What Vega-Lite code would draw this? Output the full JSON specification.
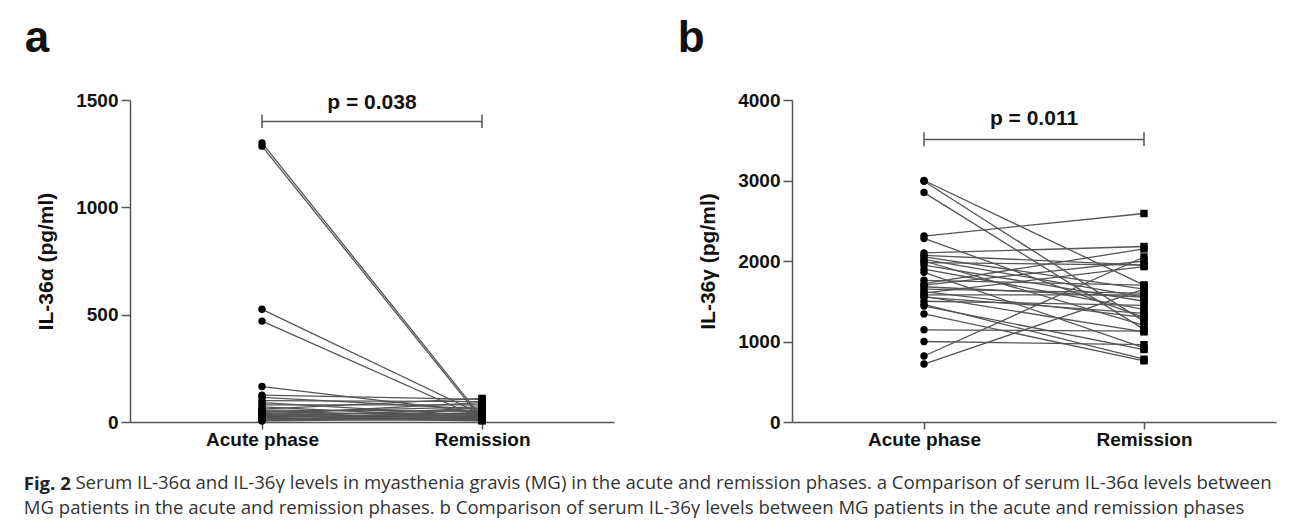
{
  "$schema": "https://vega.github.io/schema/vega-lite/v6.json",
  "background": "white",
  "padding": {"left": 23, "top": 17, "right": 5, "bottom": 5},
  "spacing": 63,
  "datasets": {
    "alpha": [
      {"id": 1, "phase": 0, "value": 1300}, {"id": 1, "phase": 1, "value": 20},
      {"id": 2, "phase": 0, "value": 1285}, {"id": 2, "phase": 1, "value": 10},
      {"id": 3, "phase": 0, "value": 525}, {"id": 3, "phase": 1, "value": 35},
      {"id": 4, "phase": 0, "value": 470}, {"id": 4, "phase": 1, "value": 15},
      {"id": 5, "phase": 0, "value": 165}, {"id": 5, "phase": 1, "value": 45},
      {"id": 6, "phase": 0, "value": 125}, {"id": 6, "phase": 1, "value": 105},
      {"id": 7, "phase": 0, "value": 115}, {"id": 7, "phase": 1, "value": 60},
      {"id": 8, "phase": 0, "value": 100}, {"id": 8, "phase": 1, "value": 95},
      {"id": 9, "phase": 0, "value": 90}, {"id": 9, "phase": 1, "value": 30},
      {"id": 10, "phase": 0, "value": 80}, {"id": 10, "phase": 1, "value": 80},
      {"id": 11, "phase": 0, "value": 70}, {"id": 11, "phase": 1, "value": 20},
      {"id": 12, "phase": 0, "value": 60}, {"id": 12, "phase": 1, "value": 110},
      {"id": 13, "phase": 0, "value": 55}, {"id": 13, "phase": 1, "value": 50},
      {"id": 14, "phase": 0, "value": 50}, {"id": 14, "phase": 1, "value": 25},
      {"id": 15, "phase": 0, "value": 45}, {"id": 15, "phase": 1, "value": 70},
      {"id": 16, "phase": 0, "value": 40}, {"id": 16, "phase": 1, "value": 15},
      {"id": 17, "phase": 0, "value": 38}, {"id": 17, "phase": 1, "value": 40},
      {"id": 18, "phase": 0, "value": 35}, {"id": 18, "phase": 1, "value": 90},
      {"id": 19, "phase": 0, "value": 32}, {"id": 19, "phase": 1, "value": 10},
      {"id": 20, "phase": 0, "value": 30}, {"id": 20, "phase": 1, "value": 55},
      {"id": 21, "phase": 0, "value": 28}, {"id": 21, "phase": 1, "value": 20},
      {"id": 22, "phase": 0, "value": 25}, {"id": 22, "phase": 1, "value": 35},
      {"id": 23, "phase": 0, "value": 22}, {"id": 23, "phase": 1, "value": 5},
      {"id": 24, "phase": 0, "value": 20}, {"id": 24, "phase": 1, "value": 65},
      {"id": 25, "phase": 0, "value": 18}, {"id": 25, "phase": 1, "value": 12},
      {"id": 26, "phase": 0, "value": 15}, {"id": 26, "phase": 1, "value": 30},
      {"id": 27, "phase": 0, "value": 12}, {"id": 27, "phase": 1, "value": 8},
      {"id": 28, "phase": 0, "value": 10}, {"id": 28, "phase": 1, "value": 45},
      {"id": 29, "phase": 0, "value": 8}, {"id": 29, "phase": 1, "value": 25},
      {"id": 30, "phase": 0, "value": 5}, {"id": 30, "phase": 1, "value": 15}
    ],
    "gamma": [
      {"id": 1, "phase": 0, "value": 3000}, {"id": 1, "phase": 1, "value": 1700},
      {"id": 2, "phase": 0, "value": 2990}, {"id": 2, "phase": 1, "value": 1250},
      {"id": 3, "phase": 0, "value": 2850}, {"id": 3, "phase": 1, "value": 1150},
      {"id": 4, "phase": 0, "value": 2310}, {"id": 4, "phase": 1, "value": 2590},
      {"id": 5, "phase": 0, "value": 2280}, {"id": 5, "phase": 1, "value": 1300},
      {"id": 6, "phase": 0, "value": 2100}, {"id": 6, "phase": 1, "value": 2180},
      {"id": 7, "phase": 0, "value": 2070}, {"id": 7, "phase": 1, "value": 1950},
      {"id": 8, "phase": 0, "value": 2050}, {"id": 8, "phase": 1, "value": 1650},
      {"id": 9, "phase": 0, "value": 2020}, {"id": 9, "phase": 1, "value": 1550},
      {"id": 10, "phase": 0, "value": 2000}, {"id": 10, "phase": 1, "value": 1200},
      {"id": 11, "phase": 0, "value": 1980}, {"id": 11, "phase": 1, "value": 1950},
      {"id": 12, "phase": 0, "value": 1950}, {"id": 12, "phase": 1, "value": 1500},
      {"id": 13, "phase": 0, "value": 1900}, {"id": 13, "phase": 1, "value": 1400},
      {"id": 14, "phase": 0, "value": 1860}, {"id": 14, "phase": 1, "value": 920},
      {"id": 15, "phase": 0, "value": 1760}, {"id": 15, "phase": 1, "value": 1700},
      {"id": 16, "phase": 0, "value": 1720}, {"id": 16, "phase": 1, "value": 2150},
      {"id": 17, "phase": 0, "value": 1680}, {"id": 17, "phase": 1, "value": 1550},
      {"id": 18, "phase": 0, "value": 1650}, {"id": 18, "phase": 1, "value": 1600},
      {"id": 19, "phase": 0, "value": 1620}, {"id": 19, "phase": 1, "value": 1300},
      {"id": 20, "phase": 0, "value": 1600}, {"id": 20, "phase": 1, "value": 1930},
      {"id": 21, "phase": 0, "value": 1580}, {"id": 21, "phase": 1, "value": 1580},
      {"id": 22, "phase": 0, "value": 1560}, {"id": 22, "phase": 1, "value": 1120},
      {"id": 23, "phase": 0, "value": 1500}, {"id": 23, "phase": 1, "value": 1450},
      {"id": 24, "phase": 0, "value": 1460}, {"id": 24, "phase": 1, "value": 780},
      {"id": 25, "phase": 0, "value": 1440}, {"id": 25, "phase": 1, "value": 900},
      {"id": 26, "phase": 0, "value": 1343}, {"id": 26, "phase": 1, "value": 760},
      {"id": 27, "phase": 0, "value": 1145}, {"id": 27, "phase": 1, "value": 1130},
      {"id": 28, "phase": 0, "value": 1000}, {"id": 28, "phase": 1, "value": 960},
      {"id": 29, "phase": 0, "value": 820}, {"id": 29, "phase": 1, "value": 2050},
      {"id": 30, "phase": 0, "value": 720}, {"id": 30, "phase": 1, "value": 1650},
      {"id": 31, "phase": 0, "value": 1700}, {"id": 31, "phase": 1, "value": 2000},
      {"id": 32, "phase": 0, "value": 1550}, {"id": 32, "phase": 1, "value": 1350}
    ],
    "bracketA": [
      {"x1": 0, "x2": 1, "y1": 1400, "y2": 1400},
      {"x1": 0, "x2": 0, "y1": 1370, "y2": 1432},
      {"x1": 1, "x2": 1, "y1": 1370, "y2": 1432}
    ],
    "bracketB": [
      {"x1": 0, "x2": 1, "y1": 3510, "y2": 3510},
      {"x1": 0, "x2": 0, "y1": 3425, "y2": 3600},
      {"x1": 1, "x2": 1, "y1": 3425, "y2": 3600}
    ],
    "pA": [{"x": 0.5, "y": 1486, "label": "p = 0.038"}],
    "pB": [{"x": 0.5, "y": 3760, "label": "p = 0.011"}]
  },
  "title": {
    "text": "Fig. 2",
    "subtitle": [
      "\u2800\u2800\u2800\u00a0 Serum IL-36α and IL-36γ levels in myasthenia gravis (MG) in the acute and remission phases. a Comparison of serum IL-36α levels between",
      "MG patients in the acute and remission phases. b Comparison of serum IL-36γ levels between MG patients in the acute and remission phases"
    ],
    "orient": "bottom",
    "anchor": "start",
    "frame": "bounds",
    "font": "Open Sans",
    "fontSize": 18.6,
    "fontWeight": "bold",
    "color": "#222",
    "subtitleFont": "Open Sans",
    "subtitleFontSize": 18.6,
    "subtitleColor": "#333",
    "subtitleLineHeight": 25,
    "subtitlePadding": -20,
    "offset": 26,
    "dx": -1
  },
  "hconcat": [
    {
      "width": 484,
      "height": 322,
      "title": {"text": "a", "anchor": "start", "frame": "bounds", "fontSize": 44, "fontWeight": "bold", "font": "Liberation Sans", "color": "#111", "dx": -11, "offset": 30},
      "layer": [
        {
          "data": {"name": "alpha"},
          "mark": {"type": "line", "color": "#555", "strokeWidth": 1.3},
          "encoding": {
            "x": {"field": "phase", "type": "quantitative", "scale": {"domain": [-0.5, 1.5]},
              "axis": {"values": [0, 1], "labelExpr": "datum.value == 0 ? 'Acute phase' : 'Remission'", "title": null}},
            "y": {"field": "value", "type": "quantitative", "scale": {"domain": [0, 1500], "nice": false},
              "axis": {"values": [0, 500, 1000, 1500], "format": "d", "title": "IL-36α (pg/ml)"}},
            "detail": {"field": "id"}
          }
        },
        {
          "data": {"name": "alpha"},
          "mark": {"type": "point", "filled": true, "color": "black", "opacity": 1, "size": 55},
          "encoding": {
            "x": {"field": "phase", "type": "quantitative"},
            "y": {"field": "value", "type": "quantitative"},
            "shape": {"field": "phase", "type": "nominal", "scale": {"domain": [0, 1], "range": ["circle", "square"]}, "legend": null}
          }
        },
        {
          "data": {"name": "bracketA"},
          "mark": {"type": "rule", "color": "#555", "strokeWidth": 1.5},
          "encoding": {
            "x": {"field": "x1", "type": "quantitative"},
            "x2": {"field": "x2"},
            "y": {"field": "y1", "type": "quantitative"},
            "y2": {"field": "y2"}
          }
        },
        {
          "data": {"name": "pA"},
          "mark": {"type": "text", "fontSize": 21, "fontWeight": "bold", "font": "Liberation Sans", "color": "#111", "baseline": "middle"},
          "encoding": {
            "x": {"field": "x", "type": "quantitative"},
            "y": {"field": "y", "type": "quantitative"},
            "text": {"field": "label"}
          }
        }
      ]
    },
    {
      "width": 484,
      "height": 322,
      "title": {"text": "b", "anchor": "start", "frame": "bounds", "fontSize": 44, "fontWeight": "bold", "font": "Liberation Sans", "color": "#111", "dx": -20, "offset": 30},
      "layer": [
        {
          "data": {"name": "gamma"},
          "mark": {"type": "line", "color": "#555", "strokeWidth": 1.3},
          "encoding": {
            "x": {"field": "phase", "type": "quantitative", "scale": {"domain": [-0.5, 1.5]},
              "axis": {"values": [0, 1], "labelExpr": "datum.value == 0 ? 'Acute phase' : 'Remission'", "title": null}},
            "y": {"field": "value", "type": "quantitative", "scale": {"domain": [0, 4000], "nice": false},
              "axis": {"values": [0, 1000, 2000, 3000, 4000], "format": "d", "title": "IL-36γ (pg/ml)"}},
            "detail": {"field": "id"}
          }
        },
        {
          "data": {"name": "gamma"},
          "mark": {"type": "point", "filled": true, "color": "black", "opacity": 1, "size": 55},
          "encoding": {
            "x": {"field": "phase", "type": "quantitative"},
            "y": {"field": "value", "type": "quantitative"},
            "shape": {"field": "phase", "type": "nominal", "scale": {"domain": [0, 1], "range": ["circle", "square"]}, "legend": null}
          }
        },
        {
          "data": {"name": "bracketB"},
          "mark": {"type": "rule", "color": "#555", "strokeWidth": 1.5},
          "encoding": {
            "x": {"field": "x1", "type": "quantitative"},
            "x2": {"field": "x2"},
            "y": {"field": "y1", "type": "quantitative"},
            "y2": {"field": "y2"}
          }
        },
        {
          "data": {"name": "pB"},
          "mark": {"type": "text", "fontSize": 21, "fontWeight": "bold", "font": "Liberation Sans", "color": "#111", "baseline": "middle"},
          "encoding": {
            "x": {"field": "x", "type": "quantitative"},
            "y": {"field": "y", "type": "quantitative"},
            "text": {"field": "label"}
          }
        }
      ]
    }
  ],
  "config": {
    "font": "Liberation Sans",
    "view": {"stroke": null},
    "axis": {
      "grid": false,
      "domainColor": "#555",
      "domainWidth": 1.5,
      "tickColor": "#555",
      "tickWidth": 1.5,
      "tickSize": 9,
      "labelFont": "Liberation Sans",
      "labelFontSize": 19,
      "labelFontWeight": "bold",
      "labelColor": "#111",
      "labelPadding": 3,
      "titleFont": "Liberation Sans",
      "titleFontSize": 21,
      "titleFontWeight": "bold",
      "titleColor": "#111",
      "titlePadding": 19
    },
    "axisX": {"labelPadding": 1, "tickSize": 7, "labelFontSize": 19},
    "axisY": {"labelAngle": 0}
  }
}
